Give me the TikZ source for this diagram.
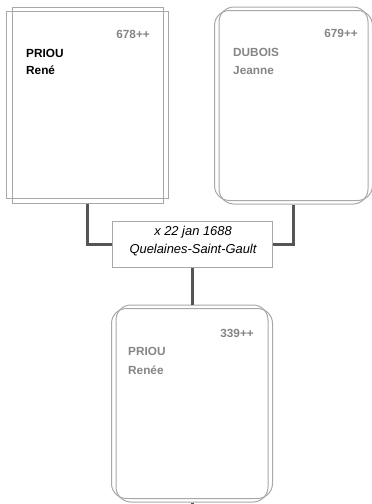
\documentclass[tikz,border=0pt]{standalone}
\usepackage{fontspec}
\setmainfont{Liberation Sans}
\usetikzlibrary{positioning}

\definecolor{boxgray}{HTML}{A8A8A8}
\definecolor{txtgray}{HTML}{858585}
\definecolor{linkgray}{HTML}{555555}

\tikzset{
  personbox/.style={draw=boxgray,line width=1pt,minimum width=#1,inner sep=0pt},
  nametxt/.style={font=\fontsize{11.8}{14}\selectfont\bfseries,anchor=base west,inner sep=0pt},
  numtxt/.style={font=\fontsize{11.8}{14}\selectfont\bfseries,text=txtgray,anchor=base east,inner sep=0pt},
  link/.style={draw=linkgray,line width=3pt}
}

\begin{document}
\begin{tikzpicture}[x=1pt,y=-1pt]
  \useasboundingbox (0,0) rectangle (372,504);
  % fathers side
  \node[personbox=151pt,minimum height=196pt] (rene) at (87.5,105) {};
  \draw[boxgray,line width=1pt] ([xshift=-5pt,yshift=-5pt]rene.north west) rectangle ([xshift=5pt,yshift=5pt]rene.south east);
  \node[numtxt] (renenum) at (150,38) {678++};
  \node[nametxt] (renenom) at (26,57) {PRIOU};
  \node[nametxt] (reneprenom) at (26,74) {René};
  % mothers side
  \node[personbox=149pt,minimum height=197pt,rounded corners=15pt] (jeanne) at (293.5,105.5) {};
  \draw[boxgray,line width=1pt,rounded corners=15pt] ([xshift=-4pt,yshift=-4pt]jeanne.north west) rectangle ([xshift=4pt,yshift=4pt]jeanne.south east);
  \node[numtxt] (jeannenum) at (358,37) {679++};
  \node[nametxt,text=txtgray] (jeannenom) at (233,56) {DUBOIS};
  \node[nametxt,text=txtgray] (jeanneprenom) at (233,74) {Jeanne};
  % marriage
  \node[draw=boxgray,line width=1pt,minimum width=160pt,minimum height=46pt,inner sep=0pt] (mariage) at (192,244) {};
  \node[font=\fontsize{12.9}{18}\selectfont\itshape,align=center,inner sep=0pt] (mariagetxt) at (193,241) {x 22 jan 1688\\Quelaines-Saint-Gault};
  % child
  \node[personbox=152pt,minimum height=197pt,rounded corners=15pt] (renee) at (192,403.5) {};
  \draw[boxgray,line width=1pt,rounded corners=15pt] ([xshift=-4pt,yshift=-4pt]renee.north west) rectangle ([xshift=4pt,yshift=4pt]renee.south east);
  \node[numtxt] (reneenum) at (254,337) {339++};
  \node[nametxt,text=txtgray] (reneenom) at (128,355) {PRIOU};
  \node[nametxt,text=txtgray] (reneeprenom) at (128,374) {Renée};
  \coordinate (suite) at (192,504);
  % links
  \draw[link] (rene.south) |- (mariage.west);
  \draw[link] (jeanne.south) |- (mariage.east);
  \draw[link] (mariage.south) -- (renee.north);
  \draw[link] (renee.south) -- (suite);
\end{tikzpicture}
\end{document}
